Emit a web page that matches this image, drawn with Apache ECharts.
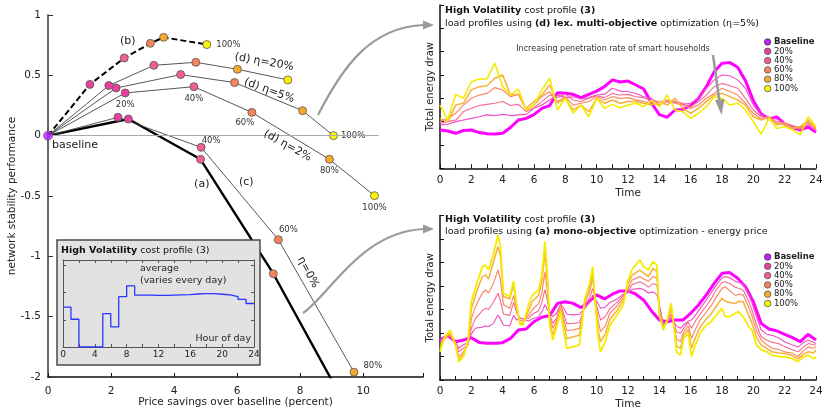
<!DOCTYPE html>
<html>
<head>
<meta charset="utf-8">
<script src="https://cdn.jsdelivr.net/npm/echarts@6/dist/echarts.min.js"></script>
<style>
html,body{margin:0;padding:0;background:#fff}
#c{width:823px;height:411px}
</style>
</head>
<body>
<div id="c"></div>
<script>
// ---------- Trade-off curves: [price savings (%), network stability] ----------
// first point is the baseline, then 20%, 40%, 60%, 80%, 100% penetration
const curveB     = [[0,0],[1.33,0.425],[2.42,0.644],[3.25,0.765],[3.67,0.815],[5.04,0.755]];
const curveEta20 = [[0,0],[1.93,0.415],[3.36,0.583],[4.69,0.608],[6.01,0.55],[7.61,0.462]];
const curveEta5  = [[0,0],[2.16,0.395],[4.21,0.506],[5.92,0.44],[8.08,0.207],[9.06,0]];
const curveEta2  = [[0,0],[2.45,0.354],[4.63,0.406],[6.47,0.193],[8.93,-0.196],[10.36,-0.497]];
const curveC     = [[0,0],[2.22,0.152],[4.86,-0.097],[7.31,-0.862],[9.71,-1.96]];
const curveA     = [[0,0],[2.55,0.138],[4.84,-0.196],[7.15,-1.144],[9.6,-2.31]];
const zeroRule   = [0, 10.5];

const penLabels = ['20%','40%','60%','80%','100%'];

// ---------- Inset: hourly price of the cost profile ----------
const priceHours  = [0,1,2,3,4,5,6,7,8,9,10,11,12,13,14,15,16,17,18,19,20,21,22,23,24];
const priceLevels = [1.47,1.02,0,0,0,1.23,0.74,1.85,2.25,1.91,1.91,1.90,1.90,1.91,1.92,1.93,1.95,1.96,1.96,1.94,1.92,1.85,1.75,1.6,1.6];

// ---------- Load profiles: (d) lex. multi-objective, 30-minute samples ----------
const halfHours = Array.from({length: 49}, (_, i) => i / 2);
const multiBase = [1.64,1.6,1.5,1.62,1.64,1.53,1.48,1.47,1.5,1.75, 2.07,2.14,2.3,2.57,2.69,3.24,3.22,3.17,3.03,3.17, 3.31,3.5,3.79,3.7,3.74,3.57,3.4,2.8,2.3,2.19, 2.5,2.52,2.69,3.0,3.5,4.14,4.5,4.53,4.33,3.75, 2.9,2.33,2.12,2.2,1.9,1.75,1.64,1.77,1.55];
const multi20   = [1.86,1.89,2.0,2.07,2.14,2.21,2.29,2.26,2.31,2.26, 2.29,2.31,2.57,2.71,2.93,3.14,3.03,3.07,2.97,3.03, 3.14,3.17,3.43,3.31,3.29,3.21,3.07,3.0,2.71,2.86, 2.83,2.74,2.79,3.0,3.43,3.79,4.0,3.97,3.79,3.43, 2.71,2.29,2.14,2.11,1.93,1.83,1.69,1.86,1.6];
const multi40   = [1.93,2.0,2.07,2.43,2.57,2.69,2.74,2.79,2.86,2.69, 2.74,2.43,2.6,2.86,3.14,3.03,3.17,2.93,2.86,3.0, 3.11,3.03,3.21,3.14,3.17,3.07,3.03,2.89,2.86,2.93, 2.86,2.79,2.64,2.86,3.14,3.5,3.64,3.54,3.43,3.0, 2.5,2.21,2.11,2.0,1.93,1.79,1.75,1.93,1.69];
const multi60   = [2.0,2.14,2.36,2.71,3.0,3.14,3.21,3.46,3.36,3.07, 3.17,2.5,2.71,3.07,3.29,2.86,3.07,2.71,2.79,2.86, 3.07,2.93,3.07,3.0,3.03,2.93,2.86,2.79,2.74,2.86, 2.79,2.71,2.57,2.71,3.0,3.21,3.43,3.29,3.14,2.79, 2.36,2.11,2.17,1.93,1.86,1.74,1.69,2.0,1.64];
const multi80   = [2.14,2.0,2.71,2.79,3.36,3.5,3.54,3.86,4.0,3.14, 3.17,2.57,2.86,3.14,3.57,2.79,3.0,2.5,2.71,2.43, 3.0,2.79,2.93,2.79,2.86,2.86,2.79,2.71,2.86,2.71, 3.0,2.57,2.36,2.57,2.86,3.14,3.21,3.07,2.93,2.71, 2.21,2.07,2.21,1.86,1.93,1.71,1.79,2.07,1.71];
const multi100  = [2.71,2.07,3.17,3.0,3.71,3.83,3.83,4.5,3.5,3.14, 3.4,2.5,2.71,3.36,3.86,2.5,3.0,2.36,2.71,2.21, 3.0,2.57,2.74,2.6,2.71,2.79,2.64,2.9,2.64,3.14, 2.5,2.43,2.14,2.36,2.64,3.07,3.0,2.71,2.79,2.5, 2.0,1.46,2.14,1.71,1.79,1.64,1.43,2.21,1.79];

// ---------- Load profiles: (a) mono-objective (energy price) ----------
const monoBase = [1.70,1.89,1.63,1.70,1.80,1.60,1.56,1.56,1.59,1.77, 2.13,2.17,2.48,2.67,2.74,3.26,3.33,3.26,3.08,3.33, 3.62,3.45,3.65,3.79,3.79,3.65,3.40,2.94,2.55,2.48, 2.55,2.55,2.84,3.19,3.62,4.11,4.54,4.57,4.33,3.97, 3.33,2.41,2.17,2.09,1.94,1.80,1.63,1.94,1.70];
const monoTime = [0,0.25,0.65,1.0,1.2,1.5,1.8,2.0,2.25,2.7, 2.9,3.1,3.4,3.7,3.85,4.05,4.45,4.7,4.9,5.1, 5.3,5.65,5.9,6.3,6.5,6.7,6.85,7.0,7.2,7.45, 7.7,7.9,8.1,8.5,8.9,9.25,9.55,9.75,9.9,10.1, 10.25,10.55,10.85,11.3,11.7,12.0,12.25,12.75,13.0,13.3, 13.6,13.85,14.0,14.25,14.5,14.75,14.9,15.1,15.35,15.55, 15.85,16.05,16.3,16.6,17.0,17.3,17.65,18.0,18.2,18.5, 18.85,19.05,19.35,19.7,19.9,20.2,20.5,20.85,21.2,21.6, 22.0,22.45,22.85,23.2,23.5,23.85,24];
const mono100 = [1.2,1.77,2.13,1.49,0.78,0.99,1.77,3.33,3.9,4.82, 4.89,4.68,5.32,6.17,5.74,3.69,3.55,4.21,3.19,2.37, 2.34,3.19,3.62,3.83,4.47,5.89,4.61,2.34,1.7,2.27, 2.91,2.06,1.35,1.42,1.49,3.48,4.11,4.82,3.33,1.77, 1.2,1.63,2.34,2.77,3.19,4.26,4.68,5.11,4.82,4.68, 5.04,4.89,2.77,2.13,2.55,3.26,2.48,1.2,1.06,1.77, 1.99,0.99,1.49,1.99,2.34,2.48,2.77,3.05,2.7,2.7, 2.84,2.91,2.7,2.27,2.13,1.49,1.28,1.2,1.06,0.99, 0.99,0.92,0.78,0.99,1.06,0.9,0.99];
const mono80  = [1.35,1.75,2.0,1.45,0.85,1.1,1.6,3.0,3.6,4.4, 4.47,4.3,5.0,5.67,5.3,3.55,3.45,4.05,3.1,2.4, 2.4,2.95,3.35,3.6,4.2,5.4,4.3,2.5,1.91,2.4, 3.12,2.35,1.75,1.84,1.9,3.4,3.95,4.54,3.4,2.1, 1.63,1.95,2.6,2.95,3.4,4.1,4.45,4.68,4.55,4.4, 4.75,4.61,2.9,2.2,2.5,3.15,2.5,1.45,1.35,1.9, 2.15,1.35,1.8,2.25,2.6,2.8,3.15,3.48,3.35,3.3, 3.25,3.35,3.33,2.75,2.45,1.8,1.49,1.35,1.2,1.15, 1.13,1.05,0.9,1.1,1.2,1.15,1.28];
const mono60  = [1.5,1.75,1.95,1.5,0.99,1.2,1.5,2.6,3.1,3.7, 3.83,3.7,4.1,4.68,4.3,3.2,3.05,3.6,2.95,2.55, 2.5,2.75,3.0,3.25,3.7,4.6,3.8,2.7,2.2,2.55, 3.2,2.6,2.1,2.13,2.2,3.3,3.75,4.33,3.45,2.5, 2.06,2.3,2.85,3.15,3.5,3.9,4.25,4.4,4.3,4.2, 4.4,4.33,3.0,2.25,2.45,3.0,2.5,1.75,1.63,2.05, 2.3,1.77,2.15,2.55,2.9,3.15,3.55,3.9,3.97,3.8, 3.6,3.65,3.62,3.1,2.75,2.1,1.7,1.5,1.35,1.3, 1.2,1.15,1.0,1.25,1.4,1.35,1.42];
const mono40  = [1.6,1.75,1.9,1.55,1.2,1.35,1.55,2.2,2.6,2.95, 3.05,3.0,3.3,3.69,3.4,2.8,2.75,3.3,2.85,2.65, 2.6,2.62,2.8,2.95,3.3,3.85,3.4,2.8,2.41,2.65, 3.2,2.8,2.4,2.41,2.45,3.15,3.5,3.9,3.45,2.9, 2.55,2.7,3.05,3.3,3.6,3.75,4.05,4.18,4.1,3.95, 4.1,4.04,3.1,2.3,2.45,2.8,2.5,2.05,1.99,2.2, 2.45,2.2,2.5,2.8,3.15,3.45,3.85,4.15,4.18,4.1, 3.95,3.9,3.83,3.35,3.0,2.35,1.84,1.7,1.6,1.55, 1.42,1.3,1.2,1.4,1.55,1.5,1.49];
const mono20  = [1.65,1.8,1.85,1.6,1.35,1.5,1.6,1.95,2.2,2.25, 2.3,2.28,2.4,2.77,2.6,2.34,2.3,2.75,2.55,2.65, 2.6,2.5,2.6,2.7,2.9,3.2,3.0,2.85,2.7,2.85, 3.22,3.05,2.8,2.77,2.8,3.05,3.3,3.62,3.45,3.25, 3.05,3.1,3.3,3.45,3.65,3.7,3.85,3.9,3.85,3.7, 3.75,3.62,3.2,2.4,2.45,2.65,2.5,2.3,2.2,2.35, 2.5,2.55,2.75,3.05,3.4,3.7,4.05,4.35,4.4,4.35, 4.2,4.15,4.11,3.65,3.3,2.7,2.13,1.95,1.9,1.8, 1.63,1.5,1.4,1.6,1.7,1.6,1.56];

// ---------- Styling ----------
const FONT = 'DejaVu Sans';
const INK = '#222';
const penColors  = ['#e8409c','#f0608a','#f5845c','#f6a92e','#fbf700'];
const lineColors = ['#f04cc4','#f7688e','#f98c66','#f8b03a','#f4ec00'];
const baseLine = '#ff00ff';
const baseMark = '#c21cff';

const chart = echarts.init(document.getElementById('c'));

function tradeoff(name, pts, lineStyle, labelSpec) {
  return {
    name, type: 'line', xAxisIndex: 0, yAxisIndex: 0, z: 3,
    symbol: 'circle', symbolSize: 8, showAllSymbol: true,
    itemStyle: {borderColor: '#555', borderWidth: 0.8},
    lineStyle,
    label: {show: false, fontSize: 8.5, color: '#333', fontFamily: FONT},
    emphasis: {disabled: true}, animation: false,
    data: pts.map((p, i) => {
      if (i === 0) return {value: p, symbol: 'none'};
      const item = {value: p, itemStyle: {color: penColors[i - 1]}};
      const spec = labelSpec && labelSpec[i];
      if (spec) item.label = Object.assign({show: true, formatter: penLabels[i - 1]}, spec);
      return item;
    })
  };
}

function load(name, xs, ys, idx, color, width) {
  return {
    name, type: 'line', xAxisIndex: idx, yAxisIndex: idx,
    data: xs.map((t, i) => [t, ys[i]]),
    symbol: 'none', showSymbol: false,
    lineStyle: {color, width}, itemStyle: {color},
    emphasis: {disabled: true}, animation: false, z: 2
  };
}

function legendAt(top) {
  return {
    orient: 'vertical', left: 764, top, padding: 0,
    itemWidth: 6.5, itemHeight: 6.5, itemGap: 0.3, icon: 'circle', selectedMode: false,
    textStyle: {fontSize: 8.5, color: INK, fontFamily: FONT, lineHeight: 8.3, padding: [0, 0, 0, -2]},
    data: [{name: 'Baseline', itemStyle: {color: baseMark, borderColor: '#444', borderWidth: 0.8}, textStyle: {fontWeight: 'bold'}}]
      .concat(penLabels.map((n, i) => ({name: n, itemStyle: {color: penColors[i], borderColor: '#555', borderWidth: 0.8}})))
  };
}

const loadXAxis = (grid, gap) => ({
  gridIndex: grid, type: 'value', min: 0, max: 24, interval: 1,
  axisLine: {onZero: false, lineStyle: {color: '#111', width: 1.5}},
  axisTick: {inside: true, length: 4, lineStyle: {color: '#111'}},
  axisLabel: {color: INK, fontSize: 10.5, margin: 6, fontFamily: FONT, formatter: v => (v % 2 === 0 ? v : '')},
  splitLine: {show: false},
  name: 'Time', nameLocation: 'middle', nameGap: gap, nameMoveOverlap: false,
  nameTextStyle: {color: INK, fontSize: 10.5, fontFamily: FONT}
});
const loadYAxis = (grid) => ({
  gridIndex: grid, type: 'value', min: 0, max: 7, interval: 1,
  axisLine: {show: true, onZero: false, lineStyle: {color: '#111', width: 1.5}},
  axisTick: {show: true, inside: true, length: 4, lineStyle: {color: '#111'}},
  axisLabel: {show: false}, splitLine: {show: false},
  name: 'Total energy draw', nameLocation: 'middle', nameGap: 5, nameMoveOverlap: false,
  nameTextStyle: {color: INK, fontSize: 10, fontFamily: FONT}
});
const insetAxis = {
  axisLine: {show: true, onZero: false, lineStyle: {color: '#555', width: 1}},
  axisTick: {show: true, inside: true, length: 3, lineStyle: {color: '#555'}},
  splitLine: {show: false}, z: 12
};

const option = {
  animation: false,
  textStyle: {fontFamily: FONT},
  grid: [
    {left: 48, top: 15, width: 375, height: 362, outerBoundsMode: 'none'},
    {left: 63, top: 260, width: 191, height: 87, z: 12, outerBoundsMode: 'none'},
    {left: 440, top: 5, width: 376, height: 163.3, outerBoundsMode: 'none'},
    {left: 440, top: 215.5, width: 376, height: 164.5, outerBoundsMode: 'none'}
  ],
  xAxis: [
    {gridIndex: 0, type: 'value', min: 0, max: 11.9, interval: 2,
     axisLine: {onZero: false, lineStyle: {color: '#111', width: 1.5}},
     axisTick: {inside: true, length: 4, lineStyle: {color: '#111'}},
     axisLabel: {color: INK, fontSize: 10.5, margin: 9, formatter: v => (v <= 10 ? v : '')},
     splitLine: {show: false},
     name: 'Price savings over baseline (percent)', nameLocation: 'middle', nameGap: 20, nameMoveOverlap: false,
     nameTextStyle: {color: INK, fontSize: 10.5}},
    Object.assign({gridIndex: 1, type: 'value', min: 0, max: 24, interval: 2,
     axisLabel: {color: INK, fontSize: 9, margin: 3, formatter: v => (v % 4 === 0 ? v : '')}}, insetAxis),
    Object.assign({gridIndex: 1, type: 'value', min: 0, max: 24, interval: 2, position: 'top',
     axisLabel: {show: false}}, insetAxis),
    loadXAxis(2, 19), loadXAxis(3, 19)
  ],
  yAxis: [
    {gridIndex: 0, type: 'value', min: -2, max: 1, interval: 0.5,
     axisLine: {show: true, onZero: false, lineStyle: {color: '#333', width: 1.5}},
     axisTick: {show: true, inside: true, length: 5, lineStyle: {color: '#333'}},
     axisLabel: {color: INK, fontSize: 10.5, margin: 7},
     splitLine: {show: false},
     name: 'network stability performance', nameLocation: 'middle', nameGap: 30, nameMoveOverlap: false,
     nameTextStyle: {color: INK, fontSize: 10.5}},
    Object.assign({gridIndex: 1, type: 'value', min: 0, max: 3.2, interval: 1, axisLabel: {show: false}}, insetAxis),
    Object.assign({gridIndex: 1, type: 'value', min: 0, max: 3.2, interval: 1, position: 'right', axisLabel: {show: false}}, insetAxis),
    loadYAxis(2), loadYAxis(3)
  ],
  legend: [legendAt(37.5), legendAt(252.5)],
  series: [
    // zero reference line
    {type: 'line', xAxisIndex: 0, yAxisIndex: 0, data: [], z: 1, silent: true,
     markLine: {silent: true, symbol: ['none', 'none'], label: {show: false}, animation: false,
       lineStyle: {color: '#aaa', width: 1, type: 'solid'},
       data: [[{coord: [zeroRule[0], 0]}, {coord: [zeroRule[1], 0]}]]}},
    tradeoff('(a)', curveA, {color: '#000', width: 2.4}),
    tradeoff('(c)', curveC, {color: '#444', width: 0.9},
      {2: {position: 'top', offset: [10, 7]}, 3: {position: 'top', offset: [10, 4]}, 4: {position: 'right', offset: [0, -6]}}),
    tradeoff('(d) 2%', curveEta2, {color: '#444', width: 0.9},
      {1: {position: 'bottom', distance: 3}, 2: {position: 'bottom', distance: 3}, 3: {position: 'bottom', distance: 2, offset: [-7, 0]},
       4: {position: 'bottom', distance: 3}, 5: {position: 'bottom', distance: 3}}),
    tradeoff('(d) 5%', curveEta5, {color: '#444', width: 0.9}, {5: {position: 'right', distance: 3}}),
    tradeoff('(d) 20%', curveEta20, {color: '#444', width: 0.9}),
    tradeoff('(b)', curveB, {color: '#000', width: 2, type: [6, 3]}, {5: {position: 'right', distance: 5}}),
    {name: 'baseline point', type: 'scatter', xAxisIndex: 0, yAxisIndex: 0, z: 5, symbolSize: 9,
     data: [[0, 0]], itemStyle: {color: baseMark, borderColor: '#555', borderWidth: 0.8}, animation: false},

    // inset price profile
    {type: 'line', xAxisIndex: 1, yAxisIndex: 1, step: 'end', z: 13, symbol: 'none',
     data: priceHours.map((h, i) => [h, priceLevels[i]]),
     lineStyle: {color: '#2a35ff', width: 1.3}, animation: false, silent: true},

    // multi-objective load profiles
    load('Baseline', halfHours, multiBase, 3, baseLine, 3),
    load('20%', halfHours, multi20, 3, lineColors[0], 1.1),
    load('40%', halfHours, multi40, 3, lineColors[1], 1.1),
    load('60%', halfHours, multi60, 3, lineColors[2], 1.2),
    load('80%', halfHours, multi80, 3, lineColors[3], 1.5),
    load('100%', halfHours, multi100, 3, lineColors[4], 1.6),

    // mono-objective load profiles
    load('Baseline', halfHours, monoBase, 4, baseLine, 3),
    load('20%', monoTime, mono20, 4, lineColors[0], 1.1),
    load('40%', monoTime, mono40, 4, lineColors[1], 1.1),
    load('60%', monoTime, mono60, 4, lineColors[2], 1.2),
    load('80%', monoTime, mono80, 4, lineColors[3], 1.5),
    load('100%', monoTime, mono100, 4, lineColors[4], 1.8)
  ]
};
chart.setOption(option);

// ---------- Annotations ----------
const curveNotes = [
  {text: '(b)', at: [2.53, 0.782], rot: 0},
  {text: '(d) η=20%', at: [6.86, 0.61], rot: -10},
  {text: '(d) η=5%', at: [7.02, 0.373], rot: -20},
  {text: '(d) η=2%', at: [7.6, -0.083], rot: -29},
  {text: '(a)', at: [4.88, -0.4], rot: 0},
  {text: '(c)', at: [6.29, -0.387], rot: 0},
  {text: 'η=0%', at: [8.25, -1.133], rot: -62}
];
const toPx = p => chart.convertToPixel({gridIndex: 0}, p);
const rich = size => ({
  b: {fontFamily: FONT, fontSize: size, fontWeight: 'bold', fill: '#111'},
  n: {fontFamily: FONT, fontSize: size, fill: '#111'}
});
const graphics = [];

curveNotes.forEach(n => {
  const [x, y] = toPx(n.at);
  graphics.push({type: 'text', x, y, rotation: n.rot * Math.PI / 180, z: 6,
    style: {text: n.text, fontFamily: FONT, fontSize: 11, fill: INK, align: 'center', verticalAlign: 'middle'}});
});
{
  const [x, y] = toPx([0, 0]);
  graphics.push({type: 'text', x: x + 4, y: y + 9, z: 6,
    style: {text: 'baseline', fontFamily: FONT, fontSize: 11, fill: INK, align: 'left', verticalAlign: 'middle'}});
}

// inset frame and texts
graphics.push({type: 'rect', z: 10, shape: {x: 57, y: 240, width: 203, height: 125},
  style: {fill: '#e2e2e2', stroke: '#4a4a4a', lineWidth: 1.5}});
graphics.push({type: 'text', x: 61, y: 251, z: 13,
  style: {text: '{b|High Volatility}{n| cost profile (3)}', rich: rich(9.5), verticalAlign: 'middle'}});
graphics.push({type: 'text', x: 140, y: 275, z: 13,
  style: {text: 'average\n(varies every day)', fontFamily: FONT, fontSize: 9.5, lineHeight: 12, fill: INK, verticalAlign: 'middle'}});
graphics.push({type: 'text', x: 251, y: 339, z: 13,
  style: {text: 'Hour of day', fontFamily: FONT, fontSize: 9.5, fill: INK, align: 'right', verticalAlign: 'middle'}});

// panel titles
graphics.push({type: 'text', x: 445, y: 11, z: 6,
  style: {text: '{b|High Volatility}{n| cost profile }{b|(3)}', rich: rich(9.5), verticalAlign: 'middle'}});
graphics.push({type: 'text', x: 445, y: 24, z: 6,
  style: {text: '{n|load profiles using }{b|(d) lex. multi-objective}{n| optimization (η=5%)}', rich: rich(9.5), verticalAlign: 'middle'}});
graphics.push({type: 'text', x: 445, y: 220, z: 6,
  style: {text: '{b|High Volatility}{n| cost profile }{b|(3)}', rich: rich(9.5), verticalAlign: 'middle'}});
graphics.push({type: 'text', x: 445, y: 232, z: 6,
  style: {text: '{n|load profiles using }{b|(a) mono-objective}{n| optimization - energy price}', rich: rich(9.5), verticalAlign: 'middle'}});

// penetration note and arrow
graphics.push({type: 'text', x: 613, y: 49, z: 6,
  style: {text: 'Increasing penetration rate of smart households', fontFamily: FONT, fontSize: 8, fill: '#333', align: 'center', verticalAlign: 'middle'}});
graphics.push({type: 'line', z: 6, shape: {x1: 713, y1: 55, x2: 719.5, y2: 102}, style: {stroke: '#999', lineWidth: 2.5}});
graphics.push({type: 'polygon', z: 6, shape: {points: [[721.5, 115], [715, 100], [724.5, 99]]}, style: {fill: '#999'}});

// connector arrows between panels
graphics.push({type: 'bezierCurve', z: 6, shape: {x1: 318, y1: 115, cpx1: 342, cpy1: 68, cpx2: 370, cpy2: 27, x2: 424, y2: 25},
  style: {stroke: '#9a9a9a', lineWidth: 2.2, fill: null}});
graphics.push({type: 'polygon', z: 6, shape: {points: [[434, 25], [423, 20.5], [423, 29.5]]}, style: {fill: '#9a9a9a'}});
graphics.push({type: 'bezierCurve', z: 6, shape: {x1: 303, y1: 313, cpx1: 330, cpy1: 295, cpx2: 360, cpy2: 232, x2: 424, y2: 229},
  style: {stroke: '#9a9a9a', lineWidth: 2.2, fill: null}});
graphics.push({type: 'polygon', z: 6, shape: {points: [[434, 229], [423, 224.5], [423, 233.5]]}, style: {fill: '#9a9a9a'}});

chart.setOption({graphic: graphics});
</script>
</body>
</html>
